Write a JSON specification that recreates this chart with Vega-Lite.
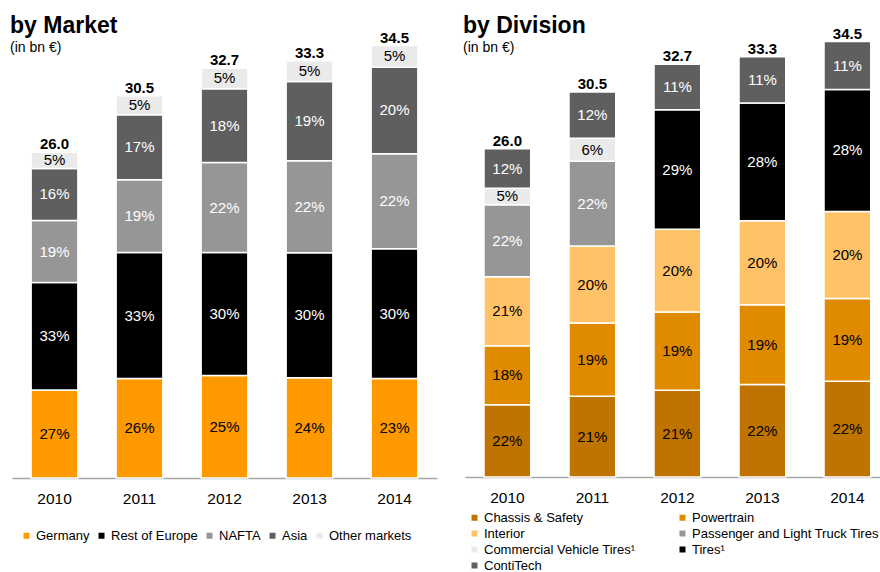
{
  "$schema": "https://vega.github.io/schema/vega-lite/v6.json",
  "padding": {"left": 10, "top": 8, "right": 0, "bottom": 0},
  "spacing": 26,
  "resolve": {"scale": {"color": "independent", "x": "independent", "y": "independent"}, "legend": {"color": "independent"}},
  "config": {
    "view": {"stroke": null},
    "font": "Liberation Sans",
    "title": {"fontSize": 23, "fontWeight": "bold", "color": "#000000", "subtitleFontSize": 14, "subtitleColor": "#000000", "subtitlePadding": 3, "subtitleFont": "Liberation Sans", "font": "Liberation Sans"},
    "axisX": {"title": null, "labelAngle": 0, "ticks": false, "tickSize": 0, "domainColor": "#A6A6A6", "domainWidth": 1.5, "labelFontSize": 15.5, "labelPadding": 13, "labelColor": "#000000", "labelFont": "Liberation Sans"},
    "legend": {"title": null, "symbolType": "square", "symbolSize": 36, "symbolStrokeWidth": 0, "labelFontSize": 13, "labelOffset": 3, "labelColor": "#000000", "labelFont": "Liberation Sans", "padding": 0, "labelLimit": 400}
  },
  "hconcat": [
    {
      "width": 425,
      "height": 470,
      "title": {"text": "by Market", "subtitle": "(in bn €)", "anchor": "start", "frame": "group", "offset": -47, "dx": -2},
      "data": {"values": [
        {"year": "2010", "market": "Germany", "pct": 0.27, "total": 26.0},
        {"year": "2010", "market": "Rest of Europe", "pct": 0.33, "total": 26.0},
        {"year": "2010", "market": "NAFTA", "pct": 0.19, "total": 26.0},
        {"year": "2010", "market": "Asia", "pct": 0.16, "total": 26.0},
        {"year": "2010", "market": "Other markets", "pct": 0.05, "total": 26.0},
        {"year": "2011", "market": "Germany", "pct": 0.26, "total": 30.5},
        {"year": "2011", "market": "Rest of Europe", "pct": 0.33, "total": 30.5},
        {"year": "2011", "market": "NAFTA", "pct": 0.19, "total": 30.5},
        {"year": "2011", "market": "Asia", "pct": 0.17, "total": 30.5},
        {"year": "2011", "market": "Other markets", "pct": 0.05, "total": 30.5},
        {"year": "2012", "market": "Germany", "pct": 0.25, "total": 32.7},
        {"year": "2012", "market": "Rest of Europe", "pct": 0.30, "total": 32.7},
        {"year": "2012", "market": "NAFTA", "pct": 0.22, "total": 32.7},
        {"year": "2012", "market": "Asia", "pct": 0.18, "total": 32.7},
        {"year": "2012", "market": "Other markets", "pct": 0.05, "total": 32.7},
        {"year": "2013", "market": "Germany", "pct": 0.24, "total": 33.3},
        {"year": "2013", "market": "Rest of Europe", "pct": 0.30, "total": 33.3},
        {"year": "2013", "market": "NAFTA", "pct": 0.22, "total": 33.3},
        {"year": "2013", "market": "Asia", "pct": 0.19, "total": 33.3},
        {"year": "2013", "market": "Other markets", "pct": 0.05, "total": 33.3},
        {"year": "2014", "market": "Germany", "pct": 0.23, "total": 34.5},
        {"year": "2014", "market": "Rest of Europe", "pct": 0.30, "total": 34.5},
        {"year": "2014", "market": "NAFTA", "pct": 0.22, "total": 34.5},
        {"year": "2014", "market": "Asia", "pct": 0.20, "total": 34.5},
        {"year": "2014", "market": "Other markets", "pct": 0.05, "total": 34.5}
      ]},
      "transform": [
        {"calculate": "datum.total * datum.pct", "as": "bn"},
        {"calculate": "indexof(['Germany','Rest of Europe','NAFTA','Asia','Other markets'], datum.market)", "as": "k"},
        {"stack": "bn", "groupby": ["year"], "sort": [{"field": "k", "order": "ascending"}], "as": ["y0", "y1"]},
        {"calculate": "(datum.y0 + datum.y1) / 2", "as": "ym"}
      ],
      "encoding": {
        "x": {"field": "year", "type": "ordinal", "scale": {"paddingInner": 0.45, "paddingOuter": 0.225}}
      },
      "layer": [
        {
          "mark": {"type": "bar", "stroke": "white", "strokeWidth": 1.5},
          "encoding": {
            "y": {"field": "y0", "type": "quantitative", "scale": {"domain": [0, 37.5], "nice": false, "zero": true}, "axis": null},
            "y2": {"field": "y1"},
            "color": {"field": "market", "type": "nominal",
              "scale": {"domain": ["Germany", "Rest of Europe", "NAFTA", "Asia", "Other markets"], "range": ["#FF9900", "#000000", "#969696", "#5F5F5F", "#EAEAEA"]},
              "legend": {"orient": "none", "legendX": 8, "legendY": 521, "direction": "horizontal", "columnPadding": 5}}
          }
        },
        {
          "mark": {"type": "text", "fontSize": 15, "font": "Liberation Sans"},
          "encoding": {
            "y": {"field": "ym", "type": "quantitative"},
            "text": {"field": "pct", "type": "quantitative", "format": ".0%"},
            "color": {"condition": {"test": "indexof(['Rest of Europe','NAFTA','Asia'], datum.market) >= 0", "value": "#FFFFFF"}, "value": "#000000"}
          }
        },
        {
          "transform": [{"aggregate": [{"op": "max", "field": "total", "as": "total"}], "groupby": ["year"]}],
          "mark": {"type": "text", "fontSize": 15, "fontWeight": "bold", "baseline": "alphabetic", "dy": -3, "font": "Liberation Sans", "color": "#000000"},
          "encoding": {
            "y": {"field": "total", "type": "quantitative"},
            "text": {"field": "total", "type": "quantitative", "format": ".1f"}
          }
        }
      ]
    },
    {
      "width": 415,
      "height": 469,
      "title": {"text": "by Division", "subtitle": "(in bn €)", "anchor": "start", "frame": "group", "offset": -47, "dx": -2},
      "data": {"values": [
        {"year": "2010", "division": "Chassis & Safety", "pct": 0.22, "total": 26.0},
        {"year": "2010", "division": "Powertrain", "pct": 0.18, "total": 26.0},
        {"year": "2010", "division": "Interior", "pct": 0.21, "total": 26.0},
        {"year": "2010", "division": "Passenger and Light Truck Tires", "pct": 0.22, "total": 26.0},
        {"year": "2010", "division": "Commercial Vehicle Tires¹", "pct": 0.05, "total": 26.0},
        {"year": "2010", "division": "ContiTech", "pct": 0.12, "total": 26.0},
        {"year": "2011", "division": "Chassis & Safety", "pct": 0.21, "total": 30.5},
        {"year": "2011", "division": "Powertrain", "pct": 0.19, "total": 30.5},
        {"year": "2011", "division": "Interior", "pct": 0.20, "total": 30.5},
        {"year": "2011", "division": "Passenger and Light Truck Tires", "pct": 0.22, "total": 30.5},
        {"year": "2011", "division": "Commercial Vehicle Tires¹", "pct": 0.06, "total": 30.5},
        {"year": "2011", "division": "ContiTech", "pct": 0.12, "total": 30.5},
        {"year": "2012", "division": "Chassis & Safety", "pct": 0.21, "total": 32.7},
        {"year": "2012", "division": "Powertrain", "pct": 0.19, "total": 32.7},
        {"year": "2012", "division": "Interior", "pct": 0.20, "total": 32.7},
        {"year": "2012", "division": "Tires¹", "pct": 0.29, "total": 32.7},
        {"year": "2012", "division": "ContiTech", "pct": 0.11, "total": 32.7},
        {"year": "2013", "division": "Chassis & Safety", "pct": 0.22, "total": 33.3},
        {"year": "2013", "division": "Powertrain", "pct": 0.19, "total": 33.3},
        {"year": "2013", "division": "Interior", "pct": 0.20, "total": 33.3},
        {"year": "2013", "division": "Tires¹", "pct": 0.28, "total": 33.3},
        {"year": "2013", "division": "ContiTech", "pct": 0.11, "total": 33.3},
        {"year": "2014", "division": "Chassis & Safety", "pct": 0.22, "total": 34.5},
        {"year": "2014", "division": "Powertrain", "pct": 0.19, "total": 34.5},
        {"year": "2014", "division": "Interior", "pct": 0.20, "total": 34.5},
        {"year": "2014", "division": "Tires¹", "pct": 0.28, "total": 34.5},
        {"year": "2014", "division": "ContiTech", "pct": 0.11, "total": 34.5}
      ]},
      "transform": [
        {"calculate": "datum.total * datum.pct", "as": "bn"},
        {"calculate": "indexof(['Chassis & Safety','Powertrain','Interior','Passenger and Light Truck Tires','Commercial Vehicle Tires¹','Tires¹','ContiTech'], datum.division)", "as": "k"},
        {"stack": "bn", "groupby": ["year"], "sort": [{"field": "k", "order": "ascending"}], "as": ["y0", "y1"]},
        {"calculate": "(datum.y0 + datum.y1) / 2", "as": "ym"}
      ],
      "encoding": {
        "x": {"field": "year", "type": "ordinal", "scale": {"paddingInner": 0.45, "paddingOuter": 0.166, "align": 0.673}}
      },
      "layer": [
        {
          "mark": {"type": "bar", "stroke": "white", "strokeWidth": 1.5},
          "encoding": {
            "y": {"field": "y0", "type": "quantitative", "scale": {"domain": [0, 37.16], "nice": false, "zero": true}, "axis": null},
            "y2": {"field": "y1"},
            "color": {"field": "division", "type": "nominal",
              "scale": {"domain": ["Chassis & Safety", "Powertrain", "Interior", "Passenger and Light Truck Tires", "Commercial Vehicle Tires¹", "Tires¹", "ContiTech"], "range": ["#C07400", "#E08A00", "#FFC266", "#969696", "#EAEAEA", "#000000", "#5F5F5F"]},
              "legend": {"orient": "none", "legendX": 3, "legendY": 503, "direction": "horizontal", "columns": 2, "columnPadding": 40, "rowPadding": 2}}
          }
        },
        {
          "mark": {"type": "text", "fontSize": 15, "font": "Liberation Sans"},
          "encoding": {
            "y": {"field": "ym", "type": "quantitative"},
            "text": {"field": "pct", "type": "quantitative", "format": ".0%"},
            "color": {"condition": {"test": "indexof(['Passenger and Light Truck Tires','Tires¹','ContiTech'], datum.division) >= 0", "value": "#FFFFFF"}, "value": "#000000"}
          }
        },
        {
          "transform": [{"aggregate": [{"op": "max", "field": "total", "as": "total"}], "groupby": ["year"]}],
          "mark": {"type": "text", "fontSize": 15, "fontWeight": "bold", "baseline": "alphabetic", "dy": -3, "font": "Liberation Sans", "color": "#000000"},
          "encoding": {
            "y": {"field": "total", "type": "quantitative"},
            "text": {"field": "total", "type": "quantitative", "format": ".1f"}
          }
        }
      ]
    }
  ]
}
